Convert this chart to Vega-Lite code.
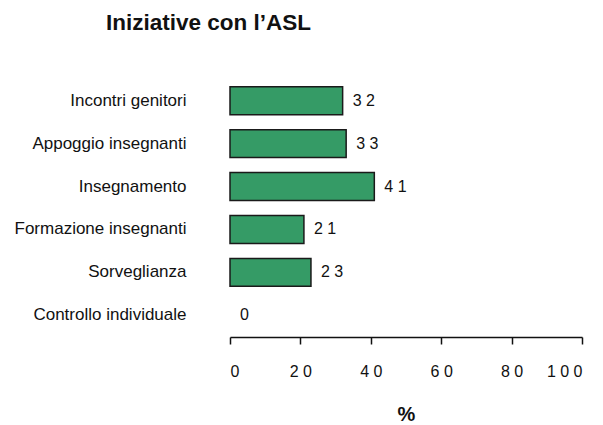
{
  "$schema": "https://vega.github.io/schema/vega-lite/v6.json",
  "autosize": {"type": "none"},
  "padding": {"left": 230, "top": 79, "right": 21, "bottom": 88},
  "width": 352,
  "height": 258,
  "background": "white",
  "title": {
    "text": "Iniziative con l’ASL",
    "anchor": "start",
    "frame": "group",
    "dx": -124,
    "offset": 45,
    "font": "Liberation Sans",
    "fontSize": 22.5,
    "fontWeight": "bold",
    "color": "#111111"
  },
  "data": {
    "values": [
      {"categoria": "Incontri genitori", "valore": 32},
      {"categoria": "Appoggio insegnanti", "valore": 33},
      {"categoria": "Insegnamento", "valore": 41},
      {"categoria": "Formazione insegnanti", "valore": 21},
      {"categoria": "Sorveglianza", "valore": 23},
      {"categoria": "Controllo individuale", "valore": 0}
    ]
  },
  "transform": [
    {"calculate": "join(split(toString(datum.valore), ''), ' ')", "as": "etichetta"}
  ],
  "encoding": {
    "y": {
      "field": "categoria",
      "type": "nominal",
      "sort": null,
      "scale": {"paddingInner": 0.35, "paddingOuter": 0.18},
      "axis": {
        "title": null,
        "domain": false,
        "ticks": false,
        "labelPadding": 44,
        "labelFont": "Liberation Sans",
        "labelFontSize": 17,
        "labelColor": "#111111"
      }
    },
    "x": {
      "field": "valore",
      "type": "quantitative",
      "scale": {"domain": [0, 100], "nice": false},
      "axis": {
        "title": "%",
        "titleFont": "Liberation Sans",
        "titleFontSize": 20,
        "titleFontWeight": "bold",
        "titleColor": "#111111",
        "titlePadding": 25,
        "values": [0, 20, 40, 60, 80, 100],
        "labelExpr": "join(split(datum.label, ''), ' ')",
        "labelFont": "Liberation Sans",
        "labelFontSize": 16,
        "labelColor": "#111111",
        "labelPadding": 19,
        "grid": false,
        "domainColor": "#111111",
        "domainWidth": 1.5,
        "tickColor": "#111111",
        "tickWidth": 1.5,
        "tickSize": 7
      }
    }
  },
  "layer": [
    {
      "transform": [{"filter": "datum.valore > 0"}],
      "mark": {"type": "bar", "color": "#359b66", "stroke": "#1a1a1a", "strokeWidth": 1.5}
    },
    {
      "mark": {"type": "text", "align": "left", "dx": 10, "font": "Liberation Sans", "fontSize": 16, "color": "#111111"},
      "encoding": {"text": {"field": "etichetta"}}
    }
  ],
  "config": {"view": {"stroke": null}}
}
